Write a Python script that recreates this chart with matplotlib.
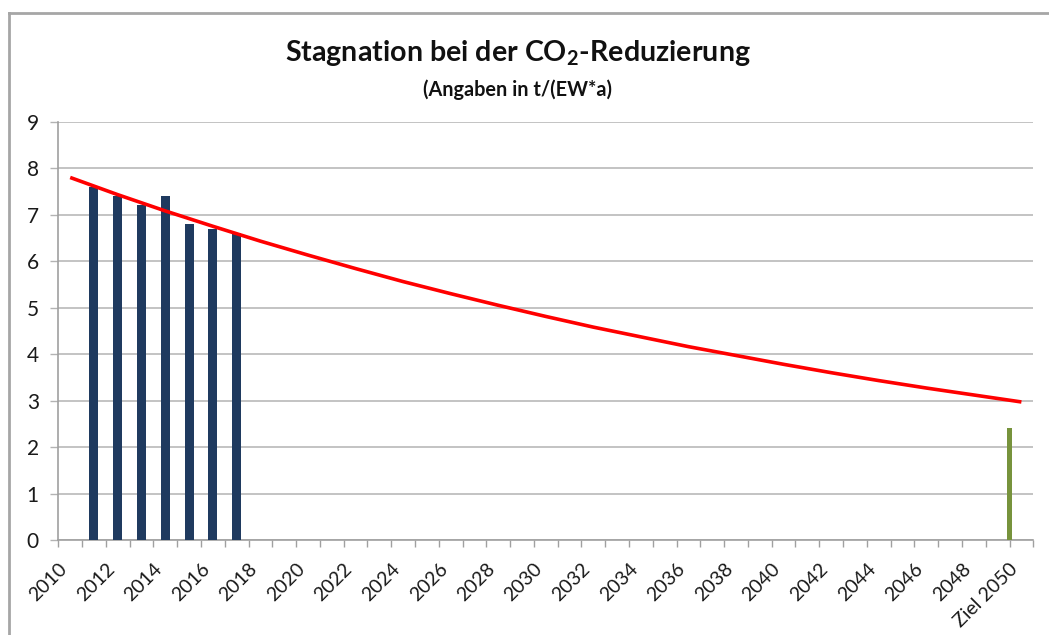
import matplotlib
matplotlib.use("Agg")
import matplotlib.pyplot as plt
import matplotlib.transforms as mtransforms
from matplotlib.lines import Line2D

plt.rcParams['font.family'] = ['Lato', 'DejaVu Sans']
plt.rcParams['mathtext.fontset'] = 'custom'
plt.rcParams['mathtext.rm'] = 'Lato'
plt.rcParams['mathtext.bf'] = 'Lato:bold'

# ---- data ----
categories = [str(y) for y in range(2010, 2050)] + ["Ziel 2050"]
actual_years = ["2011", "2012", "2013", "2014", "2015", "2016", "2017"]
actual_values = [7.6, 7.4, 7.2, 7.4, 6.8, 6.7, 6.6]
target_label = "Ziel 2050"
target_value = 2.4
trend_years = ["2010", "2012", "2014", "2016", "2018", "2020", "2022", "2024",
               "2026", "2028", "2030", "2032", "2034", "2036", "2038", "2040",
               "2042", "2044", "2046", "2048", "Ziel 2050"]
trend_values = [7.80, 7.43, 7.08, 6.75, 6.43, 6.13, 5.84, 5.56, 5.30, 5.05,
                4.81, 4.58, 4.37, 4.16, 3.97, 3.78, 3.60, 3.43, 3.27, 3.12, 2.97]
tick_labels = categories[::2]
yticks = [0, 1, 2, 3, 4, 5, 6, 7, 8, 9]

W, H = 1049, 635
fig = plt.figure(figsize=(W / 100, H / 100), dpi=100)
ax = fig.add_axes([58.3 / W, 95 / H, 975 / W, 418.3 / H])

idx = {c: i for i, c in enumerate(categories)}
ax.bar([idx[y] for y in actual_years], actual_values, width=0.38,
       color='#1f3a5f', zorder=3)
ax.bar([idx[target_label] - 0.5], [target_value], width=0.24,
       color='#77933c', zorder=3)
ax.plot([idx[y] for y in trend_years], trend_values, color='#ff0000',
        lw=2.6, solid_capstyle='butt', zorder=4)

ax.set_xlim(-0.5, len(categories) - 0.5)
ax.set_ylim(0, 9)
ax.set_yticks(yticks)
ax.yaxis.grid(True, color='#b3b3b3', lw=1.1, zorder=0)
ax.set_axisbelow(True)

# boundary tick marks
ax.set_xticks([i - 0.5 for i in range(len(categories) + 1)])
ax.set_xticklabels([])
ax.tick_params(axis='x', which='major', length=5, width=1, color='#a0a0a0')
# labels at category centres
ax.set_xticks([idx[c] for c in tick_labels], minor=True)
ax.set_xticklabels(tick_labels, minor=True)
ax.tick_params(axis='x', which='minor', length=0, pad=15, labelsize=14,
               labelcolor='#1a1a1a')
shift = mtransforms.ScaledTranslation(-0.06, -0.05, fig.dpi_scale_trans)
for lbl in ax.get_xticklabels(minor=True):
    lbl.set_rotation(45)
    lbl.set_ha('right')
    lbl.set_va('center')
    lbl.set_rotation_mode('anchor')
    lbl.set_transform(lbl.get_transform() + shift)

ax.tick_params(axis='y', length=6, width=1, color='#b3b3b3', pad=8,
               labelsize=15, labelcolor='#1a1a1a')

for s in ['top', 'right']:
    ax.spines[s].set_visible(False)
for s in ['left', 'bottom']:
    ax.spines[s].set_color('#a0a0a0')
    ax.spines[s].set_linewidth(1.2)

fig.text(517.5 / W, 1 - 61 / H, r"Stagnation bei der CO$_\mathbf{2}$-Reduzierung",
         ha='center', va='baseline', fontsize=20.6, fontweight='bold',
         color='#111111')
fig.text(517.5 / W, 1 - 96 / H, "(Angaben in t/(EW*a)", ha='center',
         va='baseline', fontsize=14.3, fontweight='bold', color='#111111')

# outer frame (top and left edges visible)
fig.add_artist(Line2D([9 / W, 1], [1 - 13 / H, 1 - 13 / H],
                      transform=fig.transFigure, color='#a6a6a6', lw=2))
fig.add_artist(Line2D([9 / W, 9 / W], [0, 1 - 13 / H],
                      transform=fig.transFigure, color='#a6a6a6', lw=2))

fig.savefig("out.png", dpi=100, facecolor='white')
